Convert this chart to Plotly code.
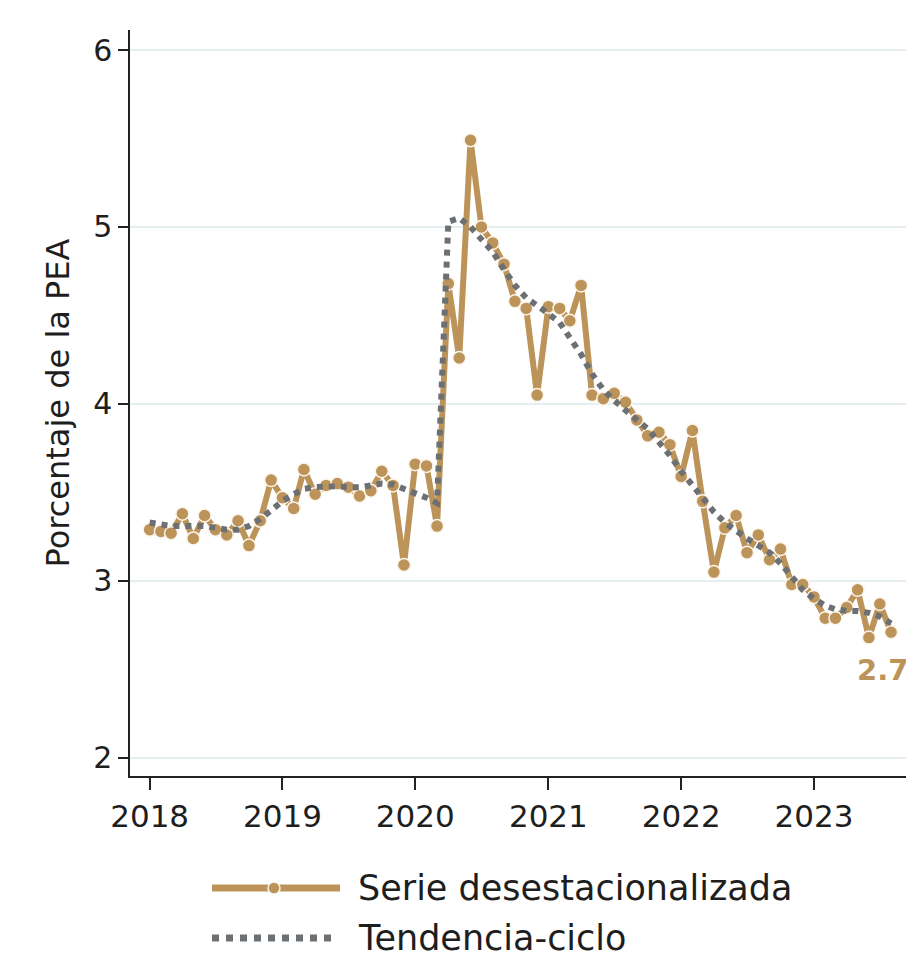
import pandas as pd
import plotly.graph_objects as go

# ---- data ----
dates = pd.date_range("2018-01-01", periods=68, freq="MS")

serie_desest = [
    3.29, 3.28, 3.27, 3.38, 3.24, 3.37, 3.29, 3.26, 3.34, 3.20, 3.34, 3.57,
    3.47, 3.41, 3.63, 3.49, 3.54, 3.55, 3.53, 3.48, 3.51, 3.62, 3.54, 3.09,
    3.66, 3.65, 3.31, 4.68, 4.26, 5.49, 5.00, 4.91, 4.79, 4.58, 4.54, 4.05,
    4.55, 4.54, 4.47, 4.67, 4.05, 4.03, 4.06, 4.01, 3.91, 3.82, 3.84, 3.77,
    3.59, 3.85, 3.45, 3.05, 3.30, 3.37, 3.16, 3.26, 3.12, 3.18, 2.98, 2.98,
    2.91, 2.79, 2.79, 2.85, 2.95, 2.68, 2.87, 2.71,
]

tendencia_ciclo = [
    3.33, 3.32, 3.31, 3.31, 3.31, 3.31, 3.30, 3.29, 3.29, 3.31, 3.35, 3.40,
    3.45, 3.49, 3.52, 3.53, 3.535, 3.535, 3.53, 3.53, 3.54, 3.55, 3.545, 3.52,
    3.50, 3.47, 3.44, 5.03, 5.05, 5.00, 4.93, 4.86, 4.76, 4.67, 4.60, 4.56,
    4.51, 4.46, 4.38, 4.28, 4.17, 4.08, 4.02, 3.96, 3.91, 3.86, 3.79, 3.71,
    3.62, 3.54, 3.46, 3.39, 3.33, 3.28, 3.24, 3.20, 3.16, 3.10, 3.02, 2.95,
    2.90, 2.86, 2.84, 2.83, 2.83, 2.82, 2.80, 2.76,
]

year_ticks = ["2018-01-01", "2019-01-01", "2020-01-01", "2021-01-01", "2022-01-01", "2023-01-01"]
year_labels = ["2018", "2019", "2020", "2021", "2022", "2023"]
y_ticks = [2, 3, 4, 5, 6]

name_serie = "Serie desestacionalizada"
name_tend = "Tendencia-ciclo"
last_label = "2.7"

# ---- style ----
TAN = "#BC9459"
GRAY = "#6C7073"
FONT = "DejaVu Sans"
TXT = "#1e1e1e"

# page has an 8px body margin -> figure coordinates = screen - 8
OFF = 8
W = 914 - OFF
H = 962 - OFF
L = 130 - OFF; R = 910 - OFF; T = 30 - OFF; B = 776 - OFF


def px(x):
    return (x - OFF - L) / (R - L)


def py(y):
    return (B - (y - OFF)) / (B - T)


fig = go.Figure()
fig.add_trace(go.Scatter(
    x=dates, y=serie_desest, mode="lines+markers", name=name_serie,
    line=dict(color=TAN, width=6),
    marker=dict(size=13, color=TAN, line=dict(color="#FBF5EC", width=1.5)),
    showlegend=False,
))
fig.add_trace(go.Scatter(
    x=dates, y=tendencia_ciclo, mode="lines", name=name_tend,
    line=dict(color=GRAY, width=6, dash="dot"),
    showlegend=False,
))

# label of last value
fig.add_annotation(
    x=dates[-1], y=serie_desest[-1], text="<b>%s</b>" % last_label,
    showarrow=False, xanchor="left", yanchor="middle", xshift=-36, yshift=-38,
    font=dict(family=FONT, size=29, color=TAN),
)

# manual legend (paper coords)
fig.add_shape(type="line", xref="paper", yref="paper",
              x0=px(212), x1=px(340), y0=py(888), y1=py(888),
              line=dict(color=TAN, width=7))
fig.add_shape(type="circle", xref="paper", yref="paper",
              xsizemode="pixel", ysizemode="pixel",
              xanchor=px(274), yanchor=py(888), x0=-6, x1=6, y0=-6, y1=6,
              fillcolor=TAN, line=dict(color="#FBF5EC", width=1.5))
fig.add_shape(type="line", xref="paper", yref="paper",
              x0=px(212), x1=px(336), y0=py(938), y1=py(938),
              line=dict(color=GRAY, width=7, dash="dot"))
fig.add_annotation(xref="paper", yref="paper", x=px(356), y=py(888),
                   text=name_serie, showarrow=False, xanchor="left", yanchor="middle",
                   font=dict(family=FONT, size=35, color=TXT))
fig.add_annotation(xref="paper", yref="paper", x=px(356), y=py(938),
                   text=name_tend, showarrow=False, xanchor="left", yanchor="middle",
                   font=dict(family=FONT, size=35, color=TXT))

fig.update_layout(
    width=W, height=H,
    margin=dict(l=L, r=W - R, t=T, b=H - B),
    paper_bgcolor="white", plot_bgcolor="white",
    font=dict(family=FONT, size=30, color=TXT),
)
fig.update_xaxes(
    type="date", range=["2017-11-08", "2023-09-22"],
    tickvals=year_ticks, ticktext=year_labels,
    showgrid=False, showline=True, linecolor="#222", linewidth=1.5,
    ticks="outside", ticklen=12, tickwidth=1.5, tickcolor="#222",
    tickfont=dict(size=31), zeroline=False,
)
fig.update_yaxes(
    range=[1.898, 6.113], tickvals=y_ticks,
    showgrid=True, gridcolor="#E5EEF1", gridwidth=2,
    showline=True, linecolor="#222", linewidth=1.5,
    ticks="outside", ticklen=10, tickwidth=1.5, tickcolor="#222",
    tickfont=dict(size=30), zeroline=False,
    title=dict(text="Porcentaje de la PEA", font=dict(size=32), standoff=14),
)

fig.write_html("out.html")
